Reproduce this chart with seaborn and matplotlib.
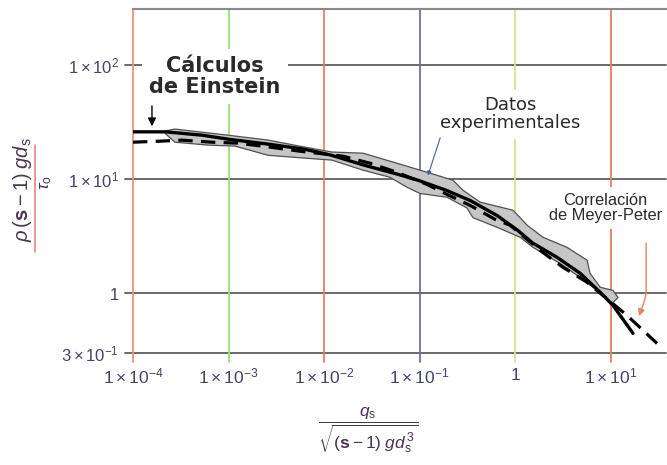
import numpy as np
import pandas as pd
import matplotlib
matplotlib.use("Agg")
import matplotlib.pyplot as plt
import seaborn as sns
from matplotlib.lines import Line2D

# Einstein curve (solid)
einstein_q = [1.0e-4, 2.2e-4, 5.3e-4, 1.0e-3, 2.6e-3, 6.3e-3, 1.2e-2, 2.6e-2, 5.8e-2, 9.6e-2,
              0.19, 0.34, 0.65, 1.05, 1.54, 2.75, 4.8, 7.8, 10.6, 17.2]
einstein_phi = [26.0, 26.0, 24.3, 22.4, 20.3, 18.3, 16.2, 13.3, 11.1, 9.8,
                8.0, 6.5, 4.8, 3.6, 2.75, 2.07, 1.50, 1.02, 0.785, 0.446]

# Meyer-Peter correlation (dashed)
meyer_q = [1.0e-4, 1.83e-4, 3.26e-4, 6.7e-4, 1.26e-3, 2.6e-3, 5.6e-3, 1.58e-2, 3.03e-2, 5.8e-2,
           0.12, 0.185, 0.338, 0.618, 0.89, 1.83, 3.18, 5.68, 14.9, 30.7]
meyer_phi = [21.1, 21.5, 22.0, 21.1, 20.7, 19.2, 17.6, 15.9, 13.8, 11.5,
             9.0, 7.5, 5.9, 4.45, 3.95, 2.38, 1.69, 1.25, 0.64, 0.364]

# experimental data band, upper and lower edges
band_up_q = [2.16e-4, 2.75e-4, 5.3e-4, 9.9e-4, 2.6e-3, 6.3e-3, 1.21e-2, 2.56e-2, 5.8e-2, 0.12,
             0.224, 0.285, 0.43, 0.95, 1.13, 1.34, 1.96, 3.5, 5.68, 6.1, 7.8, 10.6, 12.0]
band_up_phi = [26.4, 27.5, 25.8, 24.3, 22.0, 19.1, 17.3, 16.9, 13.8, 11.5,
               9.8, 8.0, 6.3, 5.35, 4.6, 3.95, 3.1, 2.53, 1.95, 1.50, 1.13, 1.06, 0.92]
band_lo_q = [2.16e-4, 2.75e-4, 6.1e-4, 1.17e-3, 2.6e-3, 6.3e-3, 1.21e-2, 2.56e-2, 4.9e-2, 7.4e-2,
             0.101, 0.194, 0.314, 0.363, 0.648, 1.13, 1.54, 2.96, 4.8, 7.2, 9.2, 10.6, 12.0]
band_lo_phi = [25.3, 21.1, 19.9, 19.5, 16.2, 15.3, 14.7, 12.0, 10.4, 8.5,
               7.5, 6.95, 5.6, 4.6, 3.79, 3.1, 2.53, 1.83, 1.38, 1.06, 0.87, 0.83, 0.92]

# ticks
x_ticks = [1e-4, 1e-3, 1e-2, 1e-1, 1, 1e1]
x_labels = [r"$1\times10^{-4}$", r"$1\times10^{-3}$", r"$1\times10^{-2}$",
            r"$1\times10^{-1}$", r"$1$", r"$1\times10^{1}$"]
y_ticks = [0.3, 1, 1e1, 1e2]
y_labels = [r"$3\times10^{-1}$", r"$1$", r"$1\times10^{1}$", r"$1\times10^{2}$"]

vline_colors = ["#eb9474", "#9ede78", "#e3835e", "#6e6e9c", "#dcdc98", "#ea7c55"]

sns.set_theme(style="white")
plt.rcParams["font.family"] = ["Liberation Sans", "DejaVu Sans"]
plt.rcParams["mathtext.fontset"] = "custom"
plt.rcParams["mathtext.rm"] = "Liberation Sans"
plt.rcParams["mathtext.it"] = "Liberation Sans:italic"
plt.rcParams["mathtext.bf"] = "Liberation Sans:bold"

W, H = 667, 465
fig = plt.figure(figsize=(W / 100, H / 100), dpi=100)
ax = fig.add_axes([133 / W, 1 - 353 / H, (666 - 133) / W, (353 - 9) / H])
ax.set_xscale("log")
ax.set_yscale("log")
ax.set_xlim(1e-4, 38.1)
ax.set_ylim(0.3, 310)

tick_col = "#42426a"
ax.set_xticks(x_ticks)
ax.set_xticklabels(x_labels, fontsize=12.5, color=tick_col)
ax.set_yticks(y_ticks)
ax.set_yticklabels(y_labels, fontsize=12, color=tick_col)
ax.minorticks_off()
ax.tick_params(axis="both", length=0)
ax.tick_params(axis="x", pad=10)
ax.tick_params(axis="y", pad=10)

for s in ["left", "right", "bottom"]:
    ax.spines[s].set_visible(False)
ax.spines["top"].set_color("#8a8a8a")
ax.spines["top"].set_linewidth(1.5)

# grid lines, sticking out a little like the original
for yv in y_ticks:
    ax.axhline(yv, xmin=-0.015, xmax=1, color="#5e5e5e", lw=1.3, clip_on=False, zorder=1)
for xv, c in zip(x_ticks, vline_colors):
    ax.axvline(xv, ymin=-0.026, ymax=1, color=c, lw=1.3, clip_on=False, zorder=1)

# experimental band
poly_q = band_up_q + band_lo_q[::-1]
poly_phi = band_up_phi + band_lo_phi[::-1]
ax.fill(poly_q, poly_phi, facecolor="#c6c6c6", edgecolor="#505050", lw=0.9, zorder=3)

ein = pd.DataFrame({"q": einstein_q, "phi": einstein_phi})
mey = pd.DataFrame({"q": meyer_q, "phi": meyer_phi})
sns.lineplot(data=mey, x="q", y="phi", ax=ax, color="black", lw=2.3,
             linestyle=(0, (4.5, 2.6)), estimator=None, sort=False, zorder=4)
sns.lineplot(data=ein, x="q", y="phi", ax=ax, color="black", lw=2.4,
             estimator=None, sort=False, zorder=5)
ax.set_xlabel("")
ax.set_ylabel("")

box = dict(boxstyle="square,pad=0.35", facecolor="white", edgecolor="none")

# annotations
ax.text(7.2e-4, 79, "Cálculos\nde Einstein", ha="center", va="center",
        fontsize=15, fontweight="bold", family="DejaVu Sans", color="#2a2a2a",
        linespacing=1.05, bbox=box, zorder=6)
ax.annotate("", xy=(1.58e-4, 27.5), xytext=(1.58e-4, 46.4),
            arrowprops=dict(arrowstyle="-|>", color="black", lw=1.0, mutation_scale=12),
            zorder=6)

ax.text(0.89, 37, "Datos\nexperimentales", ha="center", va="center",
        fontsize=13, family="DejaVu Sans", color="#2a2a2a",
        linespacing=1.0, bbox=box, zorder=6)
ax.annotate("", xy=(0.12, 10.2), xytext=(0.168, 24.3),
            arrowprops=dict(arrowstyle="-|>", color="#4a5a9a", lw=0.8, mutation_scale=6),
            zorder=6)

ax.text(8.9, 5.6, "Correlación\nde Meyer-Peter", ha="center", va="center",
        fontsize=11.8, color="#2a2a2a", linespacing=1.05, bbox=box, zorder=6)
ax.annotate("", xy=(19.4, 0.60), xytext=(23.6, 2.92),
            arrowprops=dict(arrowstyle="-|>", color="#e8825a", lw=1.0, mutation_scale=10,
                            connectionstyle="angle,angleA=90,angleB=70,rad=6"),
            zorder=6)

# axis labels written as fractions
lab_col = "#4a3550"
fig.text(22 / W, 1 - 190 / H, r"$\rho\,(\mathbf{s}-1)\;g d_\mathrm{s}$", rotation=90,
         ha="center", va="center", fontsize=14.5, color=lab_col)
fig.text(46 / W, 1 - 183 / H, r"$\tau_\mathrm{o}$", rotation=90,
         ha="center", va="center", fontsize=12.5, color=lab_col)
fig.add_artist(Line2D([35 / W, 35 / W], [1 - 145 / H, 1 - 252 / H],
                      transform=fig.transFigure, color="#f08a8a", lw=1.3))

fig.text(368 / W, 1 - 430 / H,
         r"$\dfrac{q_\mathrm{s}}{\sqrt{(\mathbf{s}-1)\;g d_\mathrm{s}^{\,3}}}$",
         ha="center", va="center", fontsize=12.5, color=lab_col)

fig.savefig("out.png", dpi=100)
